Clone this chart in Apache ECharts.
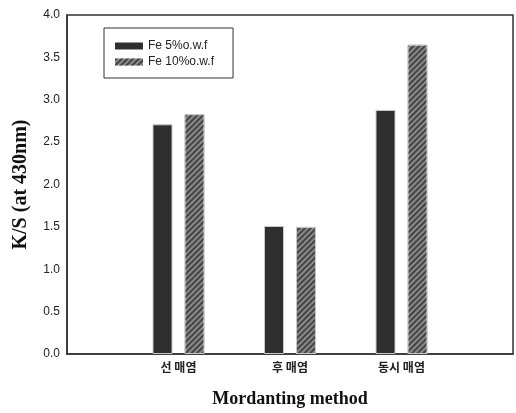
<!DOCTYPE html>
<html>
<head>
<meta charset="utf-8">
<script src="https://cdn.jsdelivr.net/npm/echarts@6/dist/echarts.min.js"></script>
<style>html,body{margin:0;padding:0;background:#fff}#c{width:516px;height:413px}</style>
</head>
<body>
<div id="c"></div>
<script>
const categories = ['', '선 매염', '후 매염', '동시 매염', ''];
const seriesNames = ['Fe 5%o.w.f', 'Fe 10%o.w.f'];
const fe5 = [null, 2.71, 1.51, 2.88, null];
const fe10 = [null, 2.83, 1.50, 3.65, null];
const yTicks = { min: 0, max: 4, interval: 0.5 };
const yName = 'K/S (at 430nm)';
const xName = 'Mordanting method';

const chart = echarts.init(document.getElementById('c'));
chart.setOption({
  animation: false,
  backgroundColor: '#fff',
  grid: { left: 67, right: 3, top: 15, bottom: 55, show: true, borderColor: '#333', borderWidth: 1.5, backgroundColor: 'transparent' },
  legend: {
    left: 104, top: 28, orient: 'vertical',
    padding: [12, 19, 10, 11],
    borderColor: '#333', borderWidth: 1,
    icon: 'rect',
    itemWidth: 28, itemHeight: 7, itemGap: 4, itemStyle: { borderWidth: 0 },
    textStyle: { fontFamily: 'Liberation Sans', fontSize: 12, color: '#222' },
    data: seriesNames
  },
  xAxis: {
    type: 'category', data: categories, boundaryGap: false,
    axisLine: { lineStyle: { color: '#333', width: 1.5 } },
    axisTick: { show: false },
    axisLabel: { margin: 7, fontFamily: 'Noto Sans CJK KR', fontWeight: 'bold', fontSize: 12, color: '#222' },
    name: xName, nameLocation: 'middle', nameGap: 36,
    nameTextStyle: { fontFamily: 'Liberation Serif', fontWeight: 'bold', fontSize: 18, color: '#111' }
  },
  yAxis: {
    type: 'value', min: yTicks.min, max: yTicks.max, interval: yTicks.interval,
    splitLine: { show: false },
    axisLine: { show: true, lineStyle: { color: '#333', width: 1.5 } },
    axisTick: { show: false },
    axisLabel: { margin: 7, fontFamily: 'Liberation Sans', fontSize: 12, color: '#222', formatter: v => v.toFixed(1) },
    name: yName, nameLocation: 'middle', nameGap: 36, nameRotate: 90,
    nameTextStyle: { fontFamily: 'Liberation Serif', fontWeight: 'bold', fontSize: 20, color: '#111' }
  },
  series: [
    { name: seriesNames[0], type: 'bar', data: fe5, barWidth: 20, barGap: '60%',
      itemStyle: { color: '#2f2f2f', borderColor: '#c8c8c8', borderWidth: 1 } },
    { name: seriesNames[1], type: 'bar', data: fe10, barWidth: 20,
      itemStyle: { color: '#8a8a8a', borderColor: '#c8c8c8', borderWidth: 1,
        decal: { symbol: 'rect', symbolSize: 1, color: 'rgba(60,60,60,0.9)', dashArrayX: [1, 0], dashArrayY: [2, 2], rotation: -Math.PI / 4 } } }
  ]
});
</script>
</body>
</html>
